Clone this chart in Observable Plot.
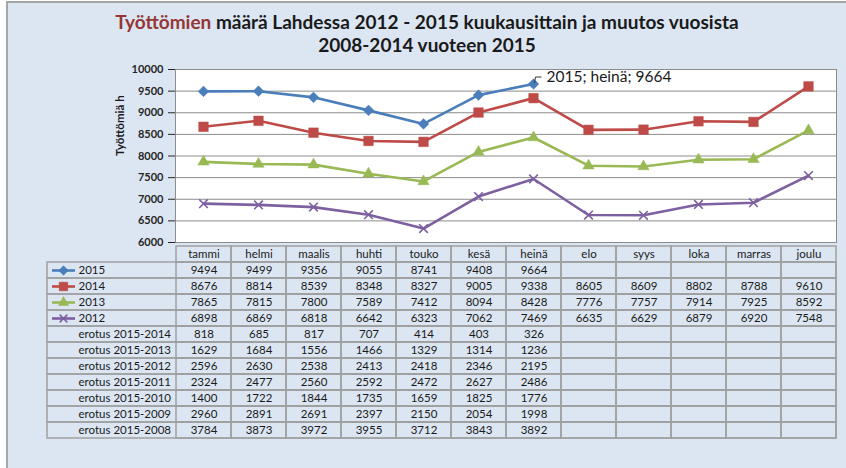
<!DOCTYPE html>
<html><head><meta charset="utf-8">
<script src="https://cdn.jsdelivr.net/npm/d3@7"></script>
<script src="https://cdn.jsdelivr.net/npm/@observablehq/plot@0.6"></script>
<style>
body{margin:0;background:#fff;}
#wrap{position:relative;width:846px;height:468px;overflow:hidden;background:#fff;font-family:Lato,sans-serif;}
#bg{position:absolute;left:6px;top:1px;right:0;bottom:0;background:#dce6f2;border-left:2px solid #a5a5a5;border-top:2px solid #a5a5a5;}
#title{position:absolute;left:8px;width:838px;top:10px;text-align:center;font-weight:700;font-size:19px;line-height:23px;color:#1a1a1a;}
.abs{position:absolute;left:0;}
</style></head><body>
<div id="wrap"><div id="bg"></div>
<div id="chart" class="abs" style="top:0"></div>
<div id="table" class="abs" style="top:242px"></div>
<div id="title"><span style="color:#953735">Työttömien</span> määrä Lahdessa 2012 - 2015 kuukausittain ja muutos vuosista<br>2008-2014 vuoteen 2015</div>
</div>
<script>
const months = ["tammi","helmi","maalis","huhti","touko","kesä","heinä","elo","syys","loka","marras","joulu"];
const s2015 = [9494,9499,9356,9055,8741,9408,9664,null,null,null,null,null];
const s2014 = [8676,8814,8539,8348,8327,9005,9338,8605,8609,8802,8788,9610];
const s2013 = [7865,7815,7800,7589,7412,8094,8428,7776,7757,7914,7925,8592];
const s2012 = [6898,6869,6818,6642,6323,7062,7469,6635,6629,6879,6920,7548];
const diffNames = ["erotus 2015-2014","erotus 2015-2013","erotus 2015-2012","erotus 2015-2011","erotus 2015-2010","erotus 2015-2009","erotus 2015-2008"];
const d2014 = [818,685,817,707,414,403,326];
const d2013 = [1629,1684,1556,1466,1329,1314,1236];
const d2012 = [2596,2630,2538,2413,2418,2346,2195];
const d2011 = [2324,2477,2560,2592,2472,2627,2486];
const d2010 = [1400,1722,1844,1735,1659,1825,1776];
const d2009 = [2960,2891,2691,2397,2150,2054,1998];
const d2008 = [3784,3873,3972,3955,3712,3843,3892];
const yTicks = [6000,6500,7000,7500,8000,8500,9000,9500,10000];
const yLabel = "Työttömiä h";
const annotation = {month:"heinä", value:9664, text:"2015; heinä; 9664"};

const series = [
  {name:"2015", values:s2015, color:"#4a7ebb", symbol:"diamond2", r:4.8, filled:true},
  {name:"2014", values:s2014, color:"#be4b48", symbol:"square", r:5.4, filled:true},
  {name:"2013", values:s2013, color:"#98b954", symbol:"triangle", r:4.2, filled:true},
  {name:"2012", values:s2012, color:"#7d60a0", symbol:"times", r:4.0, filled:false}
];
const diffs = [d2014,d2013,d2012,d2011,d2010,d2009,d2008];

const font = "Lato, 'Open Sans', sans-serif";
const pts = s => s.values.map((v,i)=>({month:months[i], value:v})).filter(d=>d.value!=null);

const leader = {draw(ctx){ ctx.moveTo(1,-1); ctx.lineTo(2,-7); ctx.lineTo(8,-7); }};

const chartMarks = [
  Plot.frame({fill:"white", stroke:"#8c8c8c"}),
  Plot.gridY(yTicks, {stroke:"#8c8c8c", strokeOpacity:1}),
  Plot.axisY(yTicks, {tickSize:7, tickPadding:5, fontSize:11, fontWeight:"bold", label:null, tickFormat:d=>String(d)}),
  Plot.text([yLabel], {frameAnchor:"left", dx:-55, rotate:-90, fontSize:11.5, fontWeight:"bold", fill:"#1a1a1a"})
];
for (const s of series) {
  chartMarks.push(Plot.line(s.values.map((v,i)=>({month:months[i], value:v})), {x:"month", y:"value", stroke:s.color, strokeWidth:2.6}));
  chartMarks.push(Plot.dot(pts(s), {x:"month", y:"value", symbol:s.symbol, r:s.r,
    fill: s.filled ? s.color : "none", stroke: s.color, strokeWidth: s.filled ? 0.5 : 1.6}));
}
chartMarks.push(Plot.dot([annotation], {x:"month", y:"value", symbol:leader, fill:"none", stroke:"#333", strokeWidth:1}));
chartMarks.push(Plot.text([annotation], {x:"month", y:"value", text:"text", dx:13, dy:-7, textAnchor:"start", fontSize:15.5, fill:"#1a1a1a"}));

const chart = Plot.plot({
  width:846, height:258, marginTop:69, marginBottom:16, marginLeft:175, marginRight:10,
  style:{background:"transparent", fontFamily:font, color:"#262626"},
  x:{type:"point", domain:months, padding:0.5, axis:null},
  y:{domain:[6000,10000], axis:null},
  marks: chartMarks
});
document.getElementById("chart").append(chart);

// table
const rowNames = ["header", ...series.map(s=>s.name), ...diffNames];
const gridCells = [];
for (const r of rowNames) for (let i=0;i<months.length;i++) {
  let text = "";
  if (r === "header") text = months[i];
  else {
    const s = series.find(s=>s.name===r);
    if (s) text = s.values[i]==null ? "" : String(s.values[i]);
    else { const d = diffs[diffNames.indexOf(r)][i]; text = d==null ? "" : String(d); }
  }
  gridCells.push({row:r, month:months[i], text});
}
const rowLabels = [...series.map(s=>({row:s.name, label:s.name})), ...diffNames.map(n=>({row:n, label:n}))];

const tableMarks = [
  Plot.cell(rowNames.slice(1), {y:d=>d, fill:"none", stroke:"#a0a0a0", strokeWidth:1.5}),
  Plot.cell(gridCells, {x:"month", y:"row", fill:"none", stroke:"#a0a0a0", strokeWidth:1.5}),
  Plot.text(gridCells, {x:"month", y:"row", text:"text", fontSize:11.5, fill:"#1a1a1a"}),
  Plot.text(rowLabels, {y:"row", text:"label", frameAnchor:"left", dx:31, textAnchor:"start", fontSize:11.5, fill:"#1a1a1a"})
];
for (const s of series) {
  tableMarks.push(Plot.ruleY([s.name], {y:d=>d, stroke:s.color, strokeWidth:2.6, insetLeft:5, insetRight:761}));
  tableMarks.push(Plot.dot([s.name], {y:d=>d, frameAnchor:"left", dx:16, symbol:s.symbol, r:s.r*0.9,
    fill: s.filled ? s.color : "none", stroke:s.color, strokeWidth: s.filled ? 0.5 : 1.5}));
}
const table = Plot.plot({
  width:846, height:226, marginTop:0, marginBottom:26, marginLeft:47, marginRight:10,
  style:{background:"transparent", fontFamily:font, color:"#1a1a1a"},
  x:{type:"band", domain:months, range:[175,836], padding:0, axis:null},
  y:{type:"band", domain:rowNames, padding:0, axis:null},
  marks: tableMarks
});
document.getElementById("table").append(table);
</script>
</body></html>
